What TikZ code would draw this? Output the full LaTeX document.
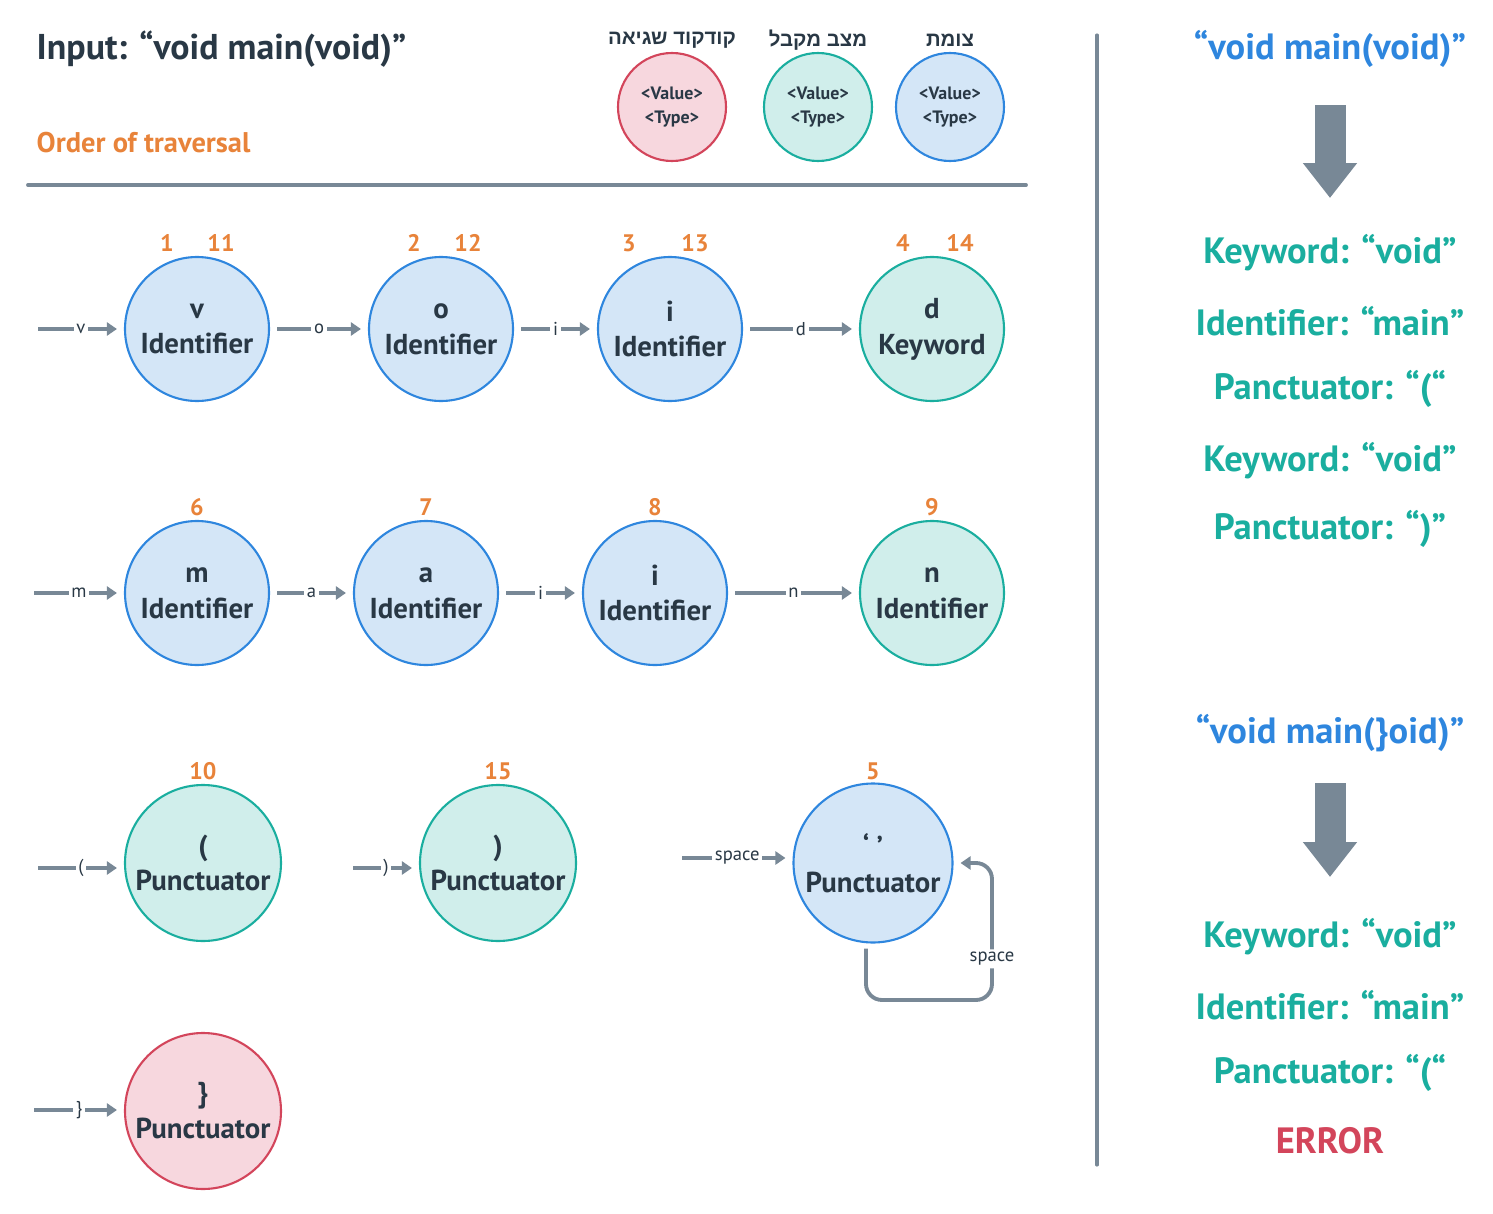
\documentclass[tikz,border=0pt]{standalone}
\usepackage{fontspec}
\setmainfont{PT Sans}
\newfontfamily\hebfont[Script=Hebrew, BoldFont={Liberation Sans Bold}]{Liberation Sans}
\TeXXeTstate=1
\usetikzlibrary{arrows.meta,positioning,calc}
\definecolor{ink}{HTML}{293845}
\definecolor{slate}{HTML}{788896}
\definecolor{orderc}{HTML}{E8833A}
\definecolor{blueline}{HTML}{2E86DE}
\definecolor{bluefill}{HTML}{D4E6F7}
\definecolor{greenline}{HTML}{1AAE9F}
\definecolor{greenfill}{HTML}{D0EEEB}
\definecolor{redline}{HTML}{D3455B}
\definecolor{redfill}{HTML}{F7D7DE}
\tikzset{
state/.style = {draw, circle, line width=0.6pt, inner sep=0pt, align=center, text=ink, minimum size=14.4mm, font=\fontsize{8.2}{10.2}\selectfont\bfseries},
wide/.style = {minimum size=15.6mm},
idstate/.style = {state, fill=bluefill, draw=blueline},
accstate/.style = {state, fill=greenfill, draw=greenline},
errstate/.style = {state, fill=redfill, draw=redline},
legend/.style = {minimum size=10.8mm, font=\fontsize{5.1}{6.8}\selectfont\bfseries},
heb/.style = {text=ink, inner sep=0pt, font=\fontsize{5.8}{7}\selectfont\hebfont\bfseries},
input/.style = {coordinate},
order/.style = {text=orderc, font=\fontsize{6.8}{8}\selectfont\bfseries},
sym/.style = {fill=white, inner sep=0.8pt, text=ink, font=\fontsize{5.3}{6}\selectfont},
trans/.style = {-{Triangle[length=1.0mm,width=1.3mm]}, line width=1.1pt, draw=slate, shorten <=0.7mm, shorten >=0.7mm},
rule/.style = {draw=slate, line cap=round},
tok/.style = {text=greenline, font=\fontsize{10.4}{12}\selectfont\bfseries},
src/.style = {text=blueline, font=\fontsize{10.4}{12}\selectfont\bfseries},
bigarrow/.style = {-{Triangle[length=3.5mm,width=5.2mm]}, line width=3.1mm, draw=slate}
}
\begin{document}
\begin{tikzpicture}[x=0.1mm, y=-0.1mm]
  \useasboundingbox (0,0) rectangle (1493,1214);

  % header
  \node [anchor=west, inner sep=0pt, text=ink, font=\fontsize{10.2}{12}\selectfont\bfseries] (title) at (36,49) {Input: “void main(void)”};
  \node [anchor=west, inner sep=0pt, order, font=\fontsize{8.1}{9}\selectfont\bfseries]     (otitle) at (36,143) {Order of traversal};

  \node [errstate, legend] (lerr) at (672,107) {<Value>\\<Type>};
  \node [accstate, legend] (lacc) at (818,107) {<Value>\\<Type>};
  \node [idstate, legend]  (lid)  at (950,107) {<Value>\\<Type>};
  \node [heb] (herr) at (672,40) {\beginR קודקוד שגיאה\endR};
  \node [heb] (hacc) at (818,40) {\beginR מצב מקבל\endR};
  \node [heb] (hid)  at (950,40) {\beginR צומת\endR};

  \coordinate (hl) at (28,185);
  \coordinate (hr) at (1026,185);
  \draw [rule, line width=1.1pt] (hl) -- (hr);
  \coordinate (vt) at (1097,35);
  \coordinate (vb) at (1097,1165);
  \draw [rule, line width=0.9pt] (vt) -- (vb);

  % row 1
  \node [input]    (vin) at (38,329) {};
  \node [idstate]  (v1)  at (197,329) {v\\Identifier};
  \node [idstate]  (o2)  at (441,329) {o\\Identifier};
  \node [idstate]  (i3)  at (670,329) {i\\Identifier};
  \node [accstate] (d4)  at (932,329) {d\\Keyword};
  \node [order] at (167,243) {1};  \node [order] at (221,243) {11};
  \node [order] at (414,243) {2};  \node [order] at (468,243) {12};
  \node [order] at (629,243) {3};  \node [order] at (695,243) {13};
  \node [order] at (903,243) {4};  \node [order] at (960,243) {14};

  \draw [trans, shorten <=0pt] (vin) -- node[sym] {v} (v1);
  \draw [trans] (v1) -- node[sym] {o} (o2);
  \draw [trans] (o2) -- node[sym] {i} (i3);
  \draw [trans] (i3) -- node[sym] {d} (d4);

  % row 2
  \node [input]    (min) at (34,593) {};
  \node [idstate]  (m6)  at (197,593) {m\\Identifier};
  \node [idstate]  (a7)  at (426,593) {a\\Identifier};
  \node [idstate]  (i8)  at (655,593) {i\\Identifier};
  \node [accstate] (n9)  at (932,593) {n\\Identifier};
  \node [order] at (197,507) {6};
  \node [order] at (426,507) {7};
  \node [order] at (655,507) {8};
  \node [order] at (932,507) {9};

  \draw [trans, shorten <=0pt] (min) -- node[sym] {m} (m6);
  \draw [trans] (m6) -- node[sym] {a} (a7);
  \draw [trans] (a7) -- node[sym] {i} (i8);
  \draw [trans] (i8) -- node[sym] {n} (n9);

  % row 3
  \node [input]          (lpin) at (38,868) {};
  \node [accstate, wide] (lp10) at (203,863) {(\\Punctuator};
  \node [input]          (rpin) at (353,868) {};
  \node [accstate, wide] (rp15) at (498,863) {)\\Punctuator};
  \node [input]          (spin) at (682,858) {};
  \node [idstate, wide, minimum size=15.9mm] (sp5) at (873,863) {‘ ’\\Punctuator};
  \node [order] at (203,771) {10};
  \node [order] at (498,771) {15};
  \node [order] at (873,771) {5};

  \draw [trans, shorten <=0pt] (lpin) -- node[sym] {(} (lpin -| lp10.west);
  \draw [trans, shorten <=0pt] (rpin) -- node[sym] {)} (rpin -| rp15.west);
  \draw [trans, shorten <=0pt] (spin) -- node[sym] {space} (spin -| sp5.west);
  \coordinate (loop) at (992,1000);
  \draw [trans, rounded corners=1.6mm, shorten <=0.5mm] ([xshift=-0.7mm]sp5.south) |- (loop) |- node[sym, pos=0.15] {space} (sp5.east);

  % row 4
  \node [input]          (rbin) at (34,1110) {};
  \node [errstate, wide] (rb)   at (203,1111) {\}\\Punctuator};
  \draw [trans, shorten <=0pt] (rbin) -- node[sym] {\}} (rbin -| rb.west);

  % right side
  \node [src] (srca) at (1330,49)  {“void main(void)”};
  \node [tok] (kwa)  at (1330,253) {Keyword: “void”};
  \node [tok] (ida)  at (1330,321) {Identifier: “main”};
  \node [tok] (pca)  at (1330,389) {Panctuator: “(“};
  \node [tok] (kwb)  at (1330,461) {Keyword: “void”};
  \node [tok] (pcb)  at (1330,529) {Panctuator: “)”};
  \draw [bigarrow, shorten <=5.6mm, shorten >=5.5mm] (srca.center) -- (kwa.center);

  \node [src] (srcb) at (1330,733)  {“void main(\}oid)”};
  \node [tok] (kwc)  at (1330,937)  {Keyword: “void”};
  \node [tok] (idc)  at (1330,1005) {Identifier: “main”};
  \node [tok] (pcc)  at (1330,1073) {Panctuator: “(“};
  \node [tok, text=redline] (err) at (1330,1141) {ERROR};
  \draw [bigarrow, shorten <=5.0mm, shorten >=6.0mm] (srcb.center) -- (kwc.center);
\end{tikzpicture}
\end{document}
